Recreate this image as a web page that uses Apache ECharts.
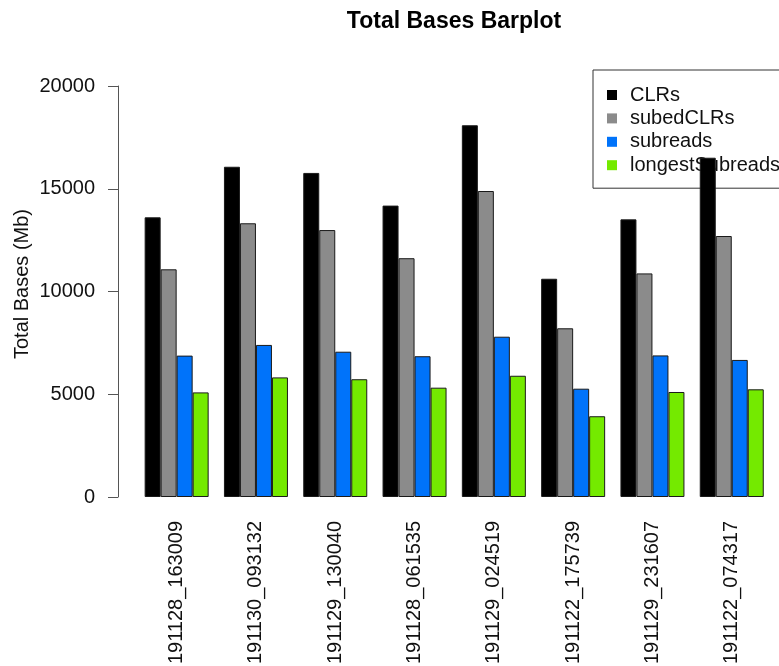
<!DOCTYPE html>
<html>
<head>
<meta charset="utf-8">
<title>Total Bases Barplot</title>
<script src="https://cdn.jsdelivr.net/npm/echarts@6/dist/echarts.min.js"></script>
<style>
  html, body { margin: 0; padding: 0; background: #fff; }
  #chart { width: 779px; height: 666px; }
</style>
</head>
<body>
<div id="chart"></div>
<script>
// Sequencing runs (x categories)
const runs = ['191128_163009', '191130_093132', '191129_130040', '191128_061535',
              '191129_024519', '191122_175739', '191129_231607', '191122_074317'];

// Total bases per read type, in Mb
const clrs            = [13610, 16070, 15770, 14180, 18090, 10620, 13510, 16510];
const subedClrs       = [11080, 13320, 12990, 11620, 14890,  8210, 10880, 12700];
const subreads        = [ 6880,  7400,  7070,  6850,  7800,  5270,  6890,  6670];
const longestSubreads = [ 5090,  5820,  5730,  5320,  5900,  3930,  5110,  5240];

// Y axis ticks
const yTicks = [0, 5000, 10000, 15000, 20000];

const seriesNames  = ['CLRs', 'subedCLRs', 'subreads', 'longestSubreads'];
const seriesData   = [clrs, subedClrs, subreads, longestSubreads];
const seriesColors = ['#000000', '#8b8b8b', '#0073fa', '#74ea00'];

const FONT = '"Liberation Sans", Arial, Helvetica, sans-serif';
const FS = 20;

const chart = echarts.init(document.getElementById('chart'), null, { renderer: 'canvas' });

chart.setOption({
  animation: false,
  backgroundColor: '#ffffff',
  title: {
    text: 'Total Bases Barplot',
    left: 454,
    textAlign: 'center',
    top: 10,
    padding: 0,
    textStyle: { fontFamily: FONT, fontSize: 23, fontWeight: 'bold', color: '#000' }
  },
  legend: {
    data: seriesNames,
    orient: 'vertical',
    left: 593,
    top: 70,
    z: 1,
    padding: [15, 60, 13, 14],
    itemGap: 3.4,
    itemWidth: 10,
    itemHeight: 10,
    icon: 'rect',
    borderColor: '#333',
    borderWidth: 1,
    backgroundColor: '#fff',
    itemStyle: { borderWidth: 0 },
    textStyle: { fontFamily: FONT, fontSize: FS, lineHeight: 20, color: '#111', padding: [0, 0, 0, 8] }
  },
  grid: {
    left: 137,
    width: 634.4,
    top: 86,
    bottom: 169,
    containLabel: false,
    outerBoundsMode: 'none'
  },
  xAxis: {
    type: 'category',
    data: runs,
    axisLine: { show: false },
    axisTick: { show: false },
    axisLabel: {
      rotate: 90,
      interval: 0,
      margin: 24,
      fontFamily: FONT,
      fontSize: FS,
      color: '#111'
    }
  },
  yAxis: {
    type: 'value',
    min: yTicks[0],
    max: yTicks[yTicks.length - 1],
    interval: yTicks[1] - yTicks[0],
    offset: 19,
    name: 'Total Bases (Mb)',
    nameLocation: 'middle',
    nameRotate: 90,
    nameGap: 86,
    nameMoveOverlap: false,
    nameTextStyle: { fontFamily: FONT, fontSize: FS, color: '#111', padding: [0, 0, 0, 15] },
    axisLine: { show: true, lineStyle: { color: '#555', width: 1 } },
    axisTick: { show: true, length: 10, lineStyle: { color: '#555', width: 1 } },
    splitLine: { show: false },
    axisLabel: {
      margin: 23,
      fontFamily: FONT,
      fontSize: FS,
      color: '#111',
      formatter: (v) => String(v)
    }
  },
  series: seriesNames.map((name, i) => ({
    name: name,
    type: 'bar',
    z: 3,
    data: seriesData[i],
    barWidth: 16,
    barGap: '0%',
    itemStyle: { color: seriesColors[i], borderColor: '#1a1a1a', borderWidth: 1 }
  }))
});
</script>
</body>
</html>
